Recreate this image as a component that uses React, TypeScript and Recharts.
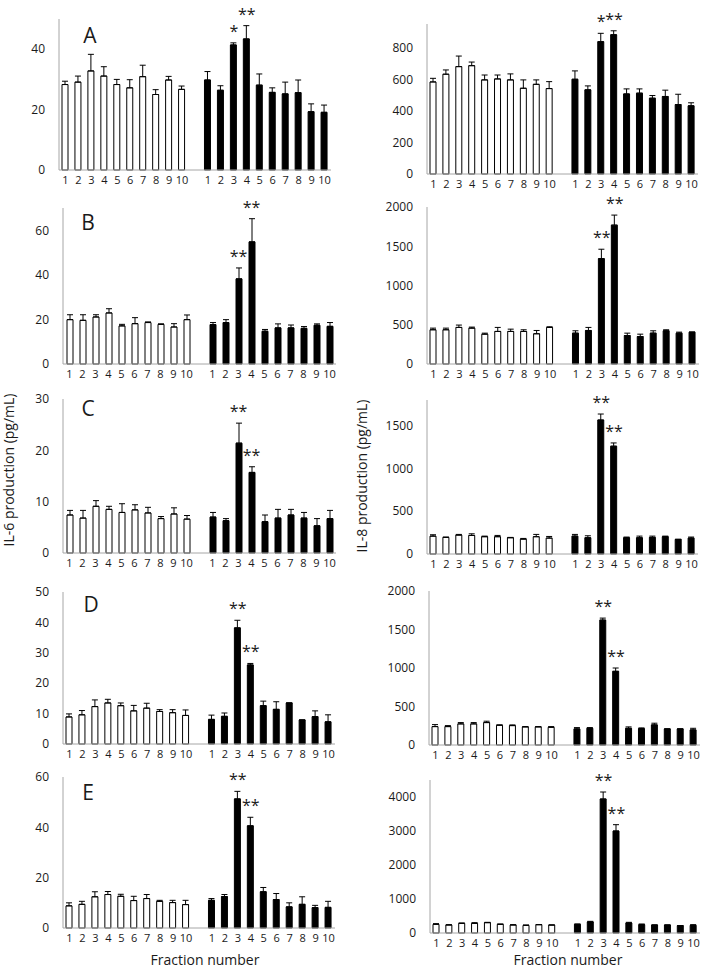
import React from 'react';
import { ComposedChart, Bar, Line, XAxis, YAxis, ErrorBar, Cell } from 'recharts';

const fractions = ['1', '2', '3', '4', '5', '6', '7', '8', '9', '10'];

// IL-6 (left column): white = control, black = treated
const il6A_ctrl = [28.3, 29.1, 32.8, 31.1, 28.3, 27.2, 30.9, 25.0, 29.8, 26.7];
const il6A_ctrlErr = [1.1, 2.0, 5.5, 3.1, 1.7, 2.7, 3.8, 1.6, 1.2, 1.1];
const il6A_trt = [29.8, 26.4, 41.4, 43.4, 28.1, 25.7, 25.2, 25.6, 19.3, 19.1];
const il6A_trtErr = [2.8, 1.5, 0.7, 4.4, 3.7, 1.5, 3.9, 4.2, 2.6, 2.4];
const il6A_sig = ['', '', '*', '**', '', '', '', '', '', ''];
const il6A_ticks = [0, 20, 40];

const il6B_ctrl = [19.9, 19.6, 21.1, 22.9, 17.1, 18.1, 18.6, 17.8, 16.6, 19.9];
const il6B_ctrlErr = [2.2, 2.5, 1.0, 1.9, 0.7, 2.7, 0.3, 0.2, 1.5, 2.1];
const il6B_trt = [17.7, 18.6, 38.2, 54.8, 14.7, 16.2, 16.2, 16.0, 17.4, 16.9];
const il6B_trtErr = [0.9, 1.3, 4.9, 10.4, 0.8, 1.8, 1.3, 0.8, 0.6, 1.7];
const il6B_sig = ['', '', '**', '**', '', '', '', '', '', ''];
const il6B_ticks = [0, 20, 40, 60];

const il6C_ctrl = [7.4, 6.8, 9.1, 8.5, 7.9, 8.4, 7.8, 6.7, 7.6, 6.6];
const il6C_ctrlErr = [0.9, 1.5, 1.1, 0.6, 1.7, 1.0, 1.1, 0.4, 1.2, 0.7];
const il6C_trt = [7.0, 6.3, 21.4, 15.7, 6.1, 6.8, 7.4, 6.8, 5.3, 6.7];
const il6C_trtErr = [0.9, 0.4, 3.9, 1.1, 1.3, 1.7, 1.1, 1.1, 1.4, 1.6];
const il6C_sig = ['', '', '**', '**', '', '', '', '', '', ''];
const il6C_ticks = [0, 10, 20, 30];

const il6D_ctrl = [8.9, 9.6, 12.3, 13.5, 12.6, 10.9, 11.8, 10.7, 10.3, 9.4];
const il6D_ctrlErr = [1.0, 1.4, 2.2, 1.2, 0.9, 1.8, 1.6, 0.6, 1.0, 1.8];
const il6D_trt = [8.1, 9.1, 38.2, 26.0, 12.6, 11.4, 13.5, 7.9, 9.0, 7.3];
const il6D_trtErr = [1.4, 1.1, 2.5, 0.5, 1.5, 2.5, 0, 0, 1.9, 2.3];
const il6D_sig = ['', '', '**', '**', '', '', '', '', '', ''];
const il6D_ticks = [0, 10, 20, 30, 40, 50];

const il6E_ctrl = [8.8, 9.4, 12.4, 13.3, 12.6, 10.9, 11.7, 10.6, 10.1, 9.3];
const il6E_ctrlErr = [1.2, 1.2, 2.0, 1.2, 0.8, 1.7, 1.6, 0.4, 0.9, 1.7];
const il6E_trt = [11.0, 12.5, 51.3, 40.6, 14.4, 11.3, 8.4, 9.4, 8.1, 8.2];
const il6E_trtErr = [0.7, 0.8, 3.0, 3.4, 1.7, 2.4, 1.6, 3.0, 0.9, 2.4];
const il6E_sig = ['', '', '**', '**', '', '', '', '', '', ''];
const il6E_ticks = [0, 20, 40, 60];

// IL-8 (right column)
const il8A_ctrl = [583, 632, 680, 686, 596, 602, 596, 543, 568, 541];
const il8A_ctrlErr = [23, 27, 67, 23, 31, 25, 38, 53, 28, 44];
const il8A_trt = [600, 533, 838, 882, 507, 512, 480, 491, 440, 432];
const il8A_trtErr = [53, 25, 53, 25, 32, 27, 17, 40, 65, 19];
const il8A_sig = ['', '', '*', '**', '', '', '', '', '', ''];
const il8A_ticks = [0, 200, 400, 600, 800];

const il8B_ctrl = [436, 436, 466, 457, 380, 415, 415, 415, 385, 466];
const il8B_ctrlErr = [21, 21, 30, 13, 13, 51, 29, 21, 42, 8];
const il8B_trt = [393, 427, 1342, 1769, 363, 350, 393, 423, 393, 406];
const il8B_trtErr = [30, 39, 120, 128, 30, 30, 30, 13, 13, 0];
const il8B_sig = ['', '', '**', '**', '', '', '', '', '', ''];
const il8B_ticks = [0, 500, 1000, 1500, 2000];

const il8C_ctrl = [209, 194, 221, 217, 202, 202, 190, 174, 202, 186];
const il8C_ctrlErr = [16, 4, 8, 19, 7, 15, 4, 8, 27, 19];
const il8C_trt = [209, 190, 1566, 1260, 190, 190, 194, 202, 171, 186];
const il8C_trtErr = [20, 23, 70, 38, 8, 19, 15, 7, 0, 12];
const il8C_sig = ['', '', '**', '**', '', '', '', '', '', ''];
const il8C_ticks = [0, 500, 1000, 1500];

const il8D_ctrl = [239, 239, 274, 274, 291, 257, 252, 235, 235, 230];
const il8D_ctrlErr = [26, 13, 17, 17, 18, 4, 9, 4, 4, 9];
const il8D_trt = [209, 217, 1622, 957, 217, 213, 261, 209, 209, 196];
const il8D_trtErr = [17, 9, 26, 43, 18, 9, 22, 0, 0, 21];
const il8D_sig = ['', '', '**', '**', '', '', '', '', '', ''];
const il8D_ticks = [0, 500, 1000, 1500, 2000];

const il8E_ctrl = [255, 235, 284, 284, 304, 255, 235, 225, 245, 235];
const il8E_ctrlErr = [20, 10, 10, 20, 10, 10, 10, 10, 0, 0];
const il8E_trt = [255, 324, 3941, 3000, 294, 245, 235, 235, 216, 225];
const il8E_trtErr = [10, 19, 206, 186, 20, 20, 0, 0, 0, 20];
const il8E_sig = ['', '', '**', '**', '', '', '', '', '', ''];
const il8E_ticks = [0, 1000, 2000, 3000, 4000];

const FONT = '"Open Sans", sans-serif';
const AXIS = '#a6a6a6';
const TEXT = '#1a1a1a';

type PanelDef = {
  letter?: string;
  ctrl: number[];
  ctrlErr: number[];
  trt: number[];
  trtErr: number[];
  sig: string[];
  ticks: number[];
  max: number;
  // plot area in page pixels
  x: number;
  top: number;
  bottom: number;
  w: number;
};

const panels: PanelDef[] = [
  { ctrl: il6A_ctrl, ctrlErr: il6A_ctrlErr, trt: il6A_trt, trtErr: il6A_trtErr, sig: il6A_sig, ticks: il6A_ticks, max: 50, x: 58.5, top: 19, bottom: 170, w: 272 },
  { ctrl: il6B_ctrl, ctrlErr: il6B_ctrlErr, trt: il6B_trt, trtErr: il6B_trtErr, sig: il6B_sig, ticks: il6B_ticks, max: 70, x: 62.5, top: 208, bottom: 364, w: 273 },
  { ctrl: il6C_ctrl, ctrlErr: il6C_ctrlErr, trt: il6C_trt, trtErr: il6C_trtErr, sig: il6C_sig, ticks: il6C_ticks, max: 30, x: 62.5, top: 399, bottom: 553, w: 273 },
  { ctrl: il6D_ctrl, ctrlErr: il6D_ctrlErr, trt: il6D_trt, trtErr: il6D_trtErr, sig: il6D_sig, ticks: il6D_ticks, max: 50, x: 62.5, top: 592, bottom: 744, w: 272 },
  { ctrl: il6E_ctrl, ctrlErr: il6E_ctrlErr, trt: il6E_trt, trtErr: il6E_trtErr, sig: il6E_sig, ticks: il6E_ticks, max: 60, x: 62.5, top: 777, bottom: 928, w: 272 },
  { ctrl: il8A_ctrl, ctrlErr: il8A_ctrlErr, trt: il8A_trt, trtErr: il8A_trtErr, sig: il8A_sig, ticks: il8A_ticks, max: 950, x: 426.5, top: 24, bottom: 174, w: 271 },
  { ctrl: il8B_ctrl, ctrlErr: il8B_ctrlErr, trt: il8B_trt, trtErr: il8B_trtErr, sig: il8B_sig, ticks: il8B_ticks, max: 2000, x: 426.5, top: 207, bottom: 364, w: 272 },
  { ctrl: il8C_ctrl, ctrlErr: il8C_ctrlErr, trt: il8C_trt, trtErr: il8C_trtErr, sig: il8C_sig, ticks: il8C_ticks, max: 1800, x: 427, top: 400, bottom: 554, w: 271 },
  { ctrl: il8D_ctrl, ctrlErr: il8D_ctrlErr, trt: il8D_trt, trtErr: il8D_trtErr, sig: il8D_sig, ticks: il8D_ticks, max: 2000, x: 429, top: 591, bottom: 745, w: 271 },
  { ctrl: il8E_ctrl, ctrlErr: il8E_ctrlErr, trt: il8E_trt, trtErr: il8E_trtErr, sig: il8E_sig, ticks: il8E_ticks, max: 4500, x: 430, top: 780, bottom: 933, w: 270 },
];

const letterPos: Record<string, [number, number]> = {
  A: [90, 35], B: [88, 222], C: [88, 408], D: [91, 604], E: [88, 792],
};

function buildRows(p: PanelDef) {
  const rows: any[] = fractions.map((f, i) => ({
    label: f, v: p.ctrl[i], e: [0, p.ctrlErr[i]], g: 0, star: '', top: null,
  }));
  rows.push({ label: '', v: null, e: [0, 0], g: -1, star: '', top: null });
  fractions.forEach((f, i) => {
    rows.push({
      label: f, v: p.trt[i], e: [0, p.trtErr[i]], g: 1, star: p.sig[i],
      top: p.sig[i] ? p.trt[i] + p.trtErr[i] : null,
    });
  });
  return rows;
}

const renderStar = (props: any) => {
  const { cx, cy, payload, index } = props;
  if (cy == null || isNaN(cy) || !payload || !payload.star) return <g key={`s${index}`} />;
  return (
    <text key={`s${index}`} x={cx} y={cy - 6} textAnchor="middle" fontSize={16} fontFamily={FONT} fill={TEXT}>
      {payload.star}
    </text>
  );
};

const YW = 50;
const MT = 30;
const XH = 24;
const MR = 6;

function Panel({ p }: { p: PanelDef }) {
  const data = buildRows(p);
  const plotH = p.bottom - p.top;
  return (
    <div style={{ position: 'absolute', left: p.x - YW, top: p.top - MT }}>
      <ComposedChart
        width={p.w + YW + MR}
        height={plotH + MT + XH}
        data={data}
        margin={{ top: MT, right: MR, bottom: 0, left: 0 }}
        barSize={6}
        style={{ overflow: 'visible' }}
      >
        <XAxis
          dataKey="label"
          interval={0}
          height={XH}
          tickLine={false}
          tickSize={6}
          tickMargin={0}
          axisLine={{ stroke: AXIS }}
          tick={{ fontSize: 11, fill: TEXT, fontFamily: FONT }}
        />
        <YAxis
          width={YW}
          domain={[0, p.max]}
          ticks={p.ticks}
          tickLine={false}
          tickSize={6}
          tickMargin={8}
          axisLine={{ stroke: AXIS }}
          tick={{ fontSize: 12, fill: TEXT, fontFamily: FONT }}
        />
        <Bar dataKey="v" isAnimationActive={false} stroke="#000" strokeWidth={1}>
          {data.map((r, i) => (
            <Cell key={i} fill={r.g === 1 ? '#000' : '#fff'} />
          ))}
          <ErrorBar dataKey="e" width={3} stroke="#000" strokeWidth={1} direction="y" />
        </Bar>
        <Line
          dataKey="top"
          stroke="none"
          dot={renderStar}
          activeDot={false}
          legendType="none"
          isAnimationActive={false}
        />
      </ComposedChart>
    </div>
  );
}

const abs = (style: React.CSSProperties): React.CSSProperties => ({
  position: 'absolute', fontFamily: FONT, color: TEXT, lineHeight: 1, whiteSpace: 'nowrap', ...style,
});

export default function App() {
  return (
    <div style={{ position: 'absolute', left: 0, top: 0, width: 706, height: 968, background: '#fff', overflow: 'hidden' }}>
      {panels.map((p, i) => (
        <Panel key={i} p={p} />
      ))}
      {Object.entries(letterPos).map(([k, [x, y]]) => (
        <div key={k} style={abs({ left: x, top: y, fontSize: 21, transform: 'translate(-50%, -50%)' })}>{k}</div>
      ))}
      <div style={abs({ left: 9, top: 470, fontSize: 14, transform: 'translate(-50%, -50%) rotate(-90deg)' })}>
        IL-6 production (pg/mL)
      </div>
      <div style={abs({ left: 362, top: 476, fontSize: 14, transform: 'translate(-50%, -50%) rotate(-90deg)' })}>
        IL-8 production (pg/mL)
      </div>
      <div style={abs({ left: 205, top: 960, fontSize: 14, transform: 'translate(-50%, -50%)' })}>Fraction number</div>
      <div style={abs({ left: 568, top: 960, fontSize: 14, transform: 'translate(-50%, -50%)' })}>Fraction number</div>
    </div>
  );
}
